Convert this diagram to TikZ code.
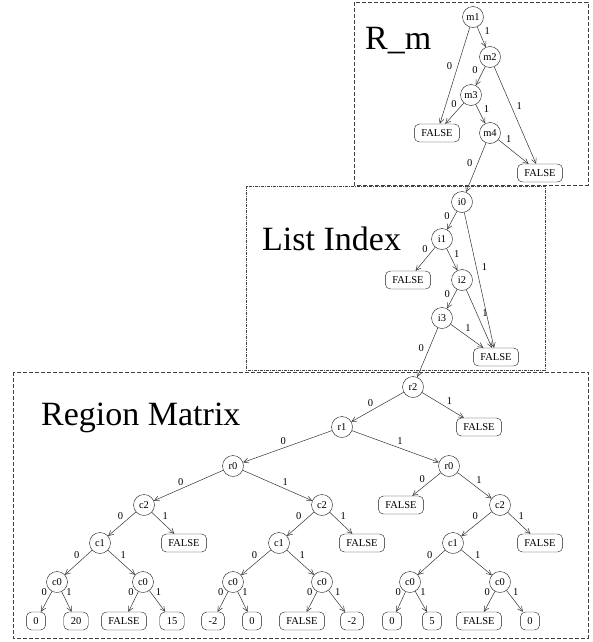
\documentclass[tikz,border=0pt]{standalone}
\usepackage{fontspec}
\setmainfont{Liberation Serif}
\usetikzlibrary{arrows.meta}

\begin{document}
\begin{tikzpicture}[x=1pt,y=-1pt,
  bdd/.style={circle,draw=gray!20!black,minimum size=21pt,inner sep=0pt,font=\fontsize{10.5}{12}\selectfont},
  leaf/.style={rectangle,rounded corners=5pt,draw=gray!20!black,minimum height=18pt,minimum width=19pt,inner xsep=7pt,inner ysep=0pt,font=\fontsize{10.5}{12}\selectfont},
  br/.style={draw=gray!40!black,line width=0.5pt,-{Straight Barb[length=5pt,width=5pt]}},
  zero/.style={above left,inner sep=1.5pt,pos=0.4,font=\fontsize{10.5}{12}\selectfont},
  one/.style={above right,inner sep=1.5pt,pos=0.4,font=\fontsize{10.5}{12}\selectfont},
  title/.style={anchor=base west,inner sep=0pt,font=\fontsize{34}{40}\selectfont}]
\useasboundingbox (0,0) rectangle (592,642);

% frames
\draw[gray!50!black,dash pattern=on 4pt off 2pt] (354,2) rectangle (588,185);
\draw[gray!50!black,dash pattern=on 3pt off 1pt on 1pt off 1pt] (246,186) rectangle (545,370);
\draw[gray!50!black,dash pattern=on 4pt off 2pt] (13,372) rectangle (588,638);

\node[title] (tm) at (365,50) {R\_m};
\node[title] (ti) at (262,250) {List Index};
\node[title] (tr) at (41,425) {Region Matrix};

% R_m
\node[bdd] (m1) at (473,17) {m1};
\node[bdd] (m2) at (490,57) {m2};
\node[bdd] (m3) at (471,95) {m3};
\node[bdd] (m4) at (490,133) {m4};
\node[leaf] (mfa) at (437,133) {FALSE};
\node[leaf] (mfb) at (540,173) {FALSE};

% list index
\node[bdd] (i0) at (462,202) {i0};
\node[bdd] (i1) at (442,239) {i1};
\node[bdd] (i2) at (462,280) {i2};
\node[bdd] (i3) at (442,318) {i3};
\node[leaf] (ifa) at (408,280) {FALSE};
\node[leaf] (ifb) at (496,357) {FALSE};

% region matrix
\node[bdd] (r2) at (413,387) {r2};
\node[leaf] (rfa) at (479,427) {FALSE};
\node[bdd] (r1) at (342,427) {r1};
\node[bdd] (r0a) at (233,466) {r0};
\node[bdd] (r0b) at (449,466) {r0};
\node[leaf] (rfb) at (401,505) {FALSE};
\node[bdd] (c2a) at (144,505) {c2};
\node[bdd] (c2b) at (322,505) {c2};
\node[bdd] (c2c) at (500,505) {c2};
\node[bdd] (c1a) at (100,543) {c1};
\node[leaf] (cfa) at (184,543) {FALSE};
\node[bdd] (c1b) at (279,543) {c1};
\node[leaf] (cfb) at (362,543) {FALSE};
\node[bdd] (c1c) at (453,543) {c1};
\node[leaf] (cfc) at (540,543) {FALSE};
\node[bdd] (c0a) at (57,582) {c0};
\node[bdd] (c0b) at (143,582) {c0};
\node[bdd] (c0c) at (233,582) {c0};
\node[bdd] (c0d) at (322,582) {c0};
\node[bdd] (c0e) at (410,582) {c0};
\node[bdd] (c0f) at (500,582) {c0};
\node[leaf] (v1) at (36,621) {0};
\node[leaf] (v2) at (76,621) {20};
\node[leaf] (v3) at (124,621) {FALSE};
\node[leaf] (v4) at (172,621) {15};
\node[leaf] (v5) at (213,621) {-2};
\node[leaf] (v6) at (252,621) {0};
\node[leaf] (v7) at (302,621) {FALSE};
\node[leaf] (v8) at (352,621) {-2};
\node[leaf] (v9) at (392,621) {0};
\node[leaf] (v10) at (432,621) {5};
\node[leaf] (v11) at (479,621) {FALSE};
\node[leaf] (v12) at (530,621) {0};

% edges
\draw[br] (m1) -- node[zero,left=4pt] {0} (mfa);
\draw[br] (m1) -- node[one,right=4pt,pos=0.2] {1} (m2);
\draw[br] (m2) -- node[zero,left=4pt,pos=0.2] {0} (m3);
\draw[br] (m2) -- node[one,right=4pt] {1} (mfb);
\draw[br] (m3) -- node[zero,pos=0.3] {0} (mfa);
\draw[br] (m3) -- node[one,right=4pt,pos=0.25] {1} (m4);
\draw[br] (m4) -- node[one,pos=0.2] {1} (mfb);
\draw[br] (m4) -- node[zero,left=4pt] {0} (i0);

\draw[br] (i0) -- node[zero,left=3pt,pos=0.25] {0} (i1);
\draw[br] (i0) -- node[one,right=4pt] {1} (ifb);
\draw[br] (i1) -- node[zero,pos=0.3] {0} (ifa);
\draw[br] (i1) -- node[one,right=3pt,pos=0.25] {1} (i2);
\draw[br] (i2) -- node[zero,left=3pt,pos=0.25] {0} (i3);
\draw[br] (i2) -- node[one,right=4pt] {1} (ifb);
\draw[br] (i3) -- node[one] {1} (ifb);
\draw[br] (i3) -- node[zero,left=4pt] {0} (r2);

\draw[br] (r2) -- node[zero,pos=0.55] {0} (r1);
\draw[br] (r2) -- node[one,pos=0.55] {1} (rfa);
\draw[br] (r1) -- node[zero,pos=0.5] {0} (r0a);
\draw[br] (r1) -- node[one,pos=0.5] {1} (r0b);
\draw[br] (r0a) -- node[zero,pos=0.55] {0} (c2a);
\draw[br] (r0a) -- node[one,pos=0.55] {1} (c2b);
\draw[br] (r0b) -- node[zero,pos=0.5] {0} (rfb);
\draw[br] (r0b) -- node[one,pos=0.5] {1} (c2c);
\draw[br] (c2a) -- node[zero] {0} (c1a);
\draw[br] (c2a) -- node[one] {1} (cfa);
\draw[br] (c2b) -- node[zero] {0} (c1b);
\draw[br] (c2b) -- node[one] {1} (cfb);
\draw[br] (c2c) -- node[zero] {0} (c1c);
\draw[br] (c2c) -- node[one] {1} (cfc);
\draw[br] (c1a) -- node[zero] {0} (c0a);
\draw[br] (c1a) -- node[one] {1} (c0b);
\draw[br] (c1b) -- node[zero] {0} (c0c);
\draw[br] (c1b) -- node[one] {1} (c0d);
\draw[br] (c1c) -- node[zero] {0} (c0e);
\draw[br] (c1c) -- node[one] {1} (c0f);
\draw[br] (c0a) -- node[zero,pos=0.3] {0} (v1);
\draw[br] (c0a) -- node[one,pos=0.3] {1} (v2);
\draw[br] (c0b) -- node[zero,pos=0.3] {0} (v3);
\draw[br] (c0b) -- node[one,pos=0.3] {1} (v4);
\draw[br] (c0c) -- node[zero,pos=0.3] {0} (v5);
\draw[br] (c0c) -- node[one,pos=0.3] {1} (v6);
\draw[br] (c0d) -- node[zero,pos=0.3] {0} (v7);
\draw[br] (c0d) -- node[one,pos=0.3] {1} (v8);
\draw[br] (c0e) -- node[zero,pos=0.3] {0} (v9);
\draw[br] (c0e) -- node[one,pos=0.3] {1} (v10);
\draw[br] (c0f) -- node[zero,pos=0.3] {0} (v11);
\draw[br] (c0f) -- node[one,pos=0.3] {1} (v12);
\end{tikzpicture}
\end{document}
